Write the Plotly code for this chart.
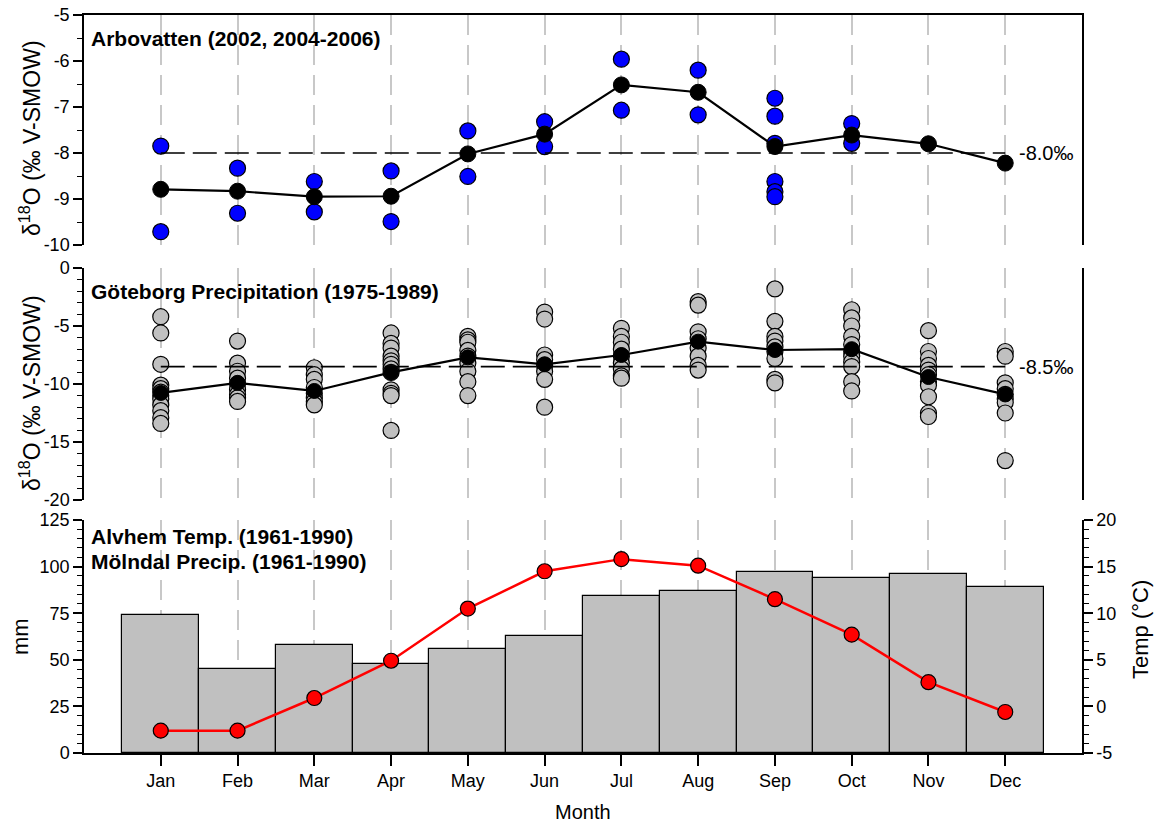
import plotly.graph_objects as go

# ---------------------------------------------------------------- data
months = ["Jan", "Feb", "Mar", "Apr", "May", "Jun",
          "Jul", "Aug", "Sep", "Oct", "Nov", "Dec"]
month_pos = list(range(1, 13))

# Arbovatten lake water d18O, individual samples per month
arbovatten_samples = [
    [-7.85, -9.71],
    [-8.33, -9.31],
    [-8.62, -9.28],
    [-8.39, -9.49],
    [-7.52, -8.51],
    [-7.32, -7.86],
    [-5.96, -7.07],
    [-6.20, -7.17],
    [-6.81, -7.20, -7.79, -8.62, -8.84, -8.95],
    [-7.36, -7.79],
    [],
    [],
]
arbovatten_mean = [-8.79, -8.83, -8.95, -8.94, -8.02, -7.59,
                   -6.52, -6.68, -7.86, -7.61, -7.80, -8.22]
arbovatten_ref = -8.0

# Goteborg precipitation d18O, individual monthly values
goteborg_samples = [
    [-4.2, -5.6, -8.3, -10.1, -10.4, -10.7, -11.0, -11.3, -11.8, -12.3, -12.9, -13.4],
    [-6.3, -8.2, -8.9, -9.5, -10.0, -10.5, -10.9, -11.2, -11.5],
    [-8.6, -9.2, -9.6, -10.3, -10.8, -11.2, -11.5, -11.8],
    [-5.6, -6.5, -6.9, -7.6, -8.0, -8.3, -8.7, -9.0, -10.5, -10.8, -11.0, -14.0],
    [-5.9, -6.2, -6.4, -7.1, -7.6, -8.2, -8.9, -9.8, -11.0],
    [-3.8, -4.4, -7.5, -7.9, -8.4, -8.9, -9.6, -12.0],
    [-5.2, -5.9, -6.4, -7.0, -7.6, -8.2, -8.7, -9.3, -9.5],
    [-2.9, -3.2, -5.5, -6.1, -6.9, -7.6, -8.4, -8.8],
    [-1.8, -4.6, -5.9, -6.3, -6.8, -7.2, -7.8, -9.6, -9.9],
    [-3.6, -4.3, -5.0, -5.9, -6.6, -7.2, -7.6, -8.1, -8.5, -9.8, -10.6],
    [-5.4, -7.2, -7.8, -8.4, -8.8, -9.2, -9.8, -10.1, -11.1, -12.5, -12.8],
    [-7.2, -7.6, -9.9, -10.4, -10.9, -11.3, -11.6, -12.5, -16.6],
]
goteborg_mean = [-10.77, -9.90, -10.60, -9.00, -7.70, -8.30,
                 -7.50, -6.35, -7.07, -7.00, -9.40, -10.90]
goteborg_ref = -8.5

# Climate normals 1961-1990
molndal_precip_mm = [74, 45, 58, 48, 56, 63, 84, 87, 97, 94, 96, 89]
alvhem_temp_c = [-2.6, -2.6, 0.9, 4.9, 10.5, 14.5, 15.8, 15.1, 11.5, 7.7, 2.6, -0.6]

# tick labels
top_ticks = [-10, -9, -8, -7, -6, -5]
mid_ticks = [-20, -15, -10, -5, 0]
mm_ticks = [0, 25, 50, 75, 100, 125]
temp_ticks = [-5, 0, 5, 10, 15, 20]

# ---------------------------------------------------------------- layout helpers
W, H = 1154, 826
FONT = "Liberation Sans, Arial, sans-serif"


def px_x(p):
    return p / W


def px_y(p):
    return 1 - p / H


x_dom = [px_x(84), px_x(1082)]
top_dom = [px_y(245), px_y(15)]
mid_dom = [px_y(500), px_y(268)]
bot_dom = [px_y(753), px_y(520)]


def flatten(samples):
    xs, ys = [], []
    for m, vals in zip(month_pos, samples):
        for v in vals:
            xs.append(m)
            ys.append(v)
    return xs, ys


def tick_text(vals):
    return [str(v) for v in vals]


fig = go.Figure()

# ---------------------------------------------------------------- top panel
ax, ay = flatten(arbovatten_samples)
fig.add_trace(go.Scatter(
    x=ax, y=ay, mode="markers", xaxis="x", yaxis="y",
    marker=dict(size=16, color="#0000ff", line=dict(color="black", width=1.2)),
))
fig.add_trace(go.Scatter(
    x=[month_pos[0], month_pos[-1]], y=[arbovatten_ref] * 2, mode="lines",
    xaxis="x", yaxis="y",
    line=dict(color="black", width=1.6, dash="24px,8px"),
))
fig.add_trace(go.Scatter(
    x=month_pos, y=arbovatten_mean, mode="lines+markers", xaxis="x", yaxis="y",
    line=dict(color="black", width=2.2),
    marker=dict(size=16, color="black", line=dict(color="black", width=1)),
))

# ---------------------------------------------------------------- middle panel
gx, gy = flatten(goteborg_samples)
fig.add_trace(go.Scatter(
    x=gx, y=gy, mode="markers", xaxis="x2", yaxis="y2",
    marker=dict(size=16, color="#c0c0c0", line=dict(color="black", width=1.2)),
))
fig.add_trace(go.Scatter(
    x=[month_pos[0], month_pos[-1]], y=[goteborg_ref] * 2, mode="lines",
    xaxis="x2", yaxis="y2",
    line=dict(color="black", width=1.6, dash="24px,8px"),
))
fig.add_trace(go.Scatter(
    x=month_pos, y=goteborg_mean, mode="lines+markers", xaxis="x2", yaxis="y2",
    line=dict(color="black", width=2.2),
    marker=dict(size=15, color="black", line=dict(color="black", width=1)),
))

# ---------------------------------------------------------------- bottom panel
fig.add_trace(go.Bar(
    x=month_pos, y=molndal_precip_mm, xaxis="x3", yaxis="y3", width=1,
    marker=dict(color="#c0c0c0", line=dict(color="black", width=1.2)),
))
fig.add_trace(go.Scatter(
    x=month_pos, y=alvhem_temp_c, mode="lines+markers", xaxis="x3", yaxis="y4",
    line=dict(color="#ff0000", width=2.5),
    marker=dict(size=15, color="#ff0000", line=dict(color="black", width=1.2)),
))

# ---------------------------------------------------------------- axes
grid = dict(showgrid=True, gridcolor="#c8c8c8", gridwidth=1.5, griddash="20px,10px")
xbase = dict(domain=x_dom, range=[0, 13], tickmode="array", tickvals=month_pos,
             zeroline=False, fixedrange=True, automargin=False, **grid)

ybase = dict(showgrid=False, zeroline=False, showline=True, linecolor="black",
             linewidth=1.5, ticks="outside", ticklen=9, tickwidth=1.5,
             tickcolor="black", tickfont=dict(size=18, color="black"),
             tickmode="array", automargin=False, fixedrange=True)


def minor(step):
    return dict(tickmode="linear", dtick=step, ticks="outside", ticklen=5,
                tickwidth=1.2, tickcolor="black", showgrid=False)


fig.update_layout(
    width=W, height=H, autosize=False,
    margin=dict(l=0, r=0, t=0, b=0, pad=0, autoexpand=False),
    paper_bgcolor="white", plot_bgcolor="white",
    showlegend=False, bargap=0,
    font=dict(family=FONT, color="black", size=18),
    xaxis=dict(**xbase, anchor="y", side="top", showticklabels=False, ticks="",
               showline=True, linecolor="black", linewidth=1.5),
    xaxis2=dict(**xbase, anchor="y2", matches="x", showticklabels=False,
                ticks="", showline=False),
    xaxis3=dict(**xbase, anchor="y3", matches="x", ticktext=months,
                ticks="outside", ticklen=11, tickwidth=1.5, tickcolor="black",
                tickfont=dict(size=18, color="black"),
                showline=True, linecolor="black", linewidth=1.5),
    yaxis=dict(**ybase, domain=top_dom, anchor="x", range=[-10, -5],
               tickvals=top_ticks, ticktext=tick_text(top_ticks),
               minor=minor(0.5), mirror=True),
    yaxis2=dict(**ybase, domain=mid_dom, anchor="x2", range=[-20, 0],
                tickvals=mid_ticks, ticktext=tick_text(mid_ticks),
                minor=minor(1), mirror=True),
    yaxis3=dict(**ybase, domain=bot_dom, anchor="x3", range=[0, 125],
                tickvals=mm_ticks, ticktext=tick_text(mm_ticks),
                minor=minor(5)),
    yaxis4=dict(**ybase, overlaying="y3", side="right", anchor="x3",
                range=[-5, 20], tickvals=temp_ticks,
                ticktext=tick_text(temp_ticks), minor=minor(1)),
)

# ---------------------------------------------------------------- text
def note(text, x, y, size=20, bold=False, angle=0, xanchor="left", **kw):
    fig.add_annotation(
        text=f"<b>{text}</b>" if bold else text,
        x=x, y=y, xref="paper", yref="paper", xanchor=xanchor, yanchor="middle",
        textangle=angle, showarrow=False,
        font=dict(family=FONT, size=size, color="black"), **kw)


note("Arbovatten (2002, 2004-2006)", px_x(89), px_y(38), size=21, bold=True)
note("Göteborg Precipitation (1975-1989)", px_x(89), px_y(291), size=21, bold=True)
note("Alvhem Temp. (1961-1990)", px_x(89), px_y(536), size=21, bold=True)
note("Mölndal Precip. (1961-1990)", px_x(89), px_y(561), size=21, bold=True)

delta_title = "δ<sup>18</sup>O (‰ V-SMOW)"
note(delta_title, px_x(30), px_y(138), size=23, angle=-90, xanchor="center")
note(delta_title, px_x(30), px_y(393), size=23, angle=-90, xanchor="center")
note("mm", px_x(20), px_y(637), size=22, angle=-90, xanchor="center")
note("Temp (°C)", px_x(1140), px_y(630), size=22, angle=-90, xanchor="center")
note("Month", px_x(583), px_y(812), size=20, xanchor="center")

for ref, xr, yr in [(arbovatten_ref, "x", "y"), (goteborg_ref, "x2", "y2")]:
    fig.add_annotation(
        text=f"{ref:.1f}‰", x=month_pos[-1], y=ref, xref=xr, yref=yr,
        xanchor="left", yanchor="middle", xshift=12, showarrow=False,
        font=dict(family=FONT, size=20, color="black"))

fig.write_html("out.html")
